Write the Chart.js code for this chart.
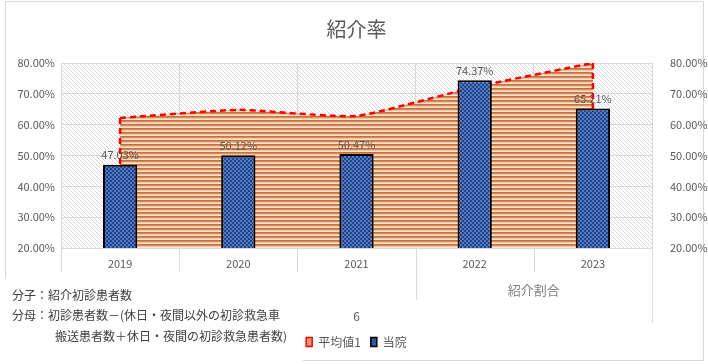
<!DOCTYPE html>
<html>
<head>
<meta charset="utf-8">
<script src="https://cdn.jsdelivr.net/npm/chart.js@4.4.1/dist/chart.umd.min.js"></script>
<style>
  html, body { margin: 0; padding: 0; background: #fff; }
  #c { display: block; }
</style>
</head>
<body>
<canvas id="c" width="708" height="364"></canvas>
<script>
// 紹介率データ
const years = ['2019', '2020', '2021', '2022', '2023'];
const ownRates = [47.03, 50.12, 50.47, 74.37, 65.21];   // 当院
const avgRates = [62.2, 64.8, 62.8, 72.2, 80.0];         // 平均値1
const yTicks = [20, 30, 40, 50, 60, 70, 80];
const groupLabel = '紹介割合';
const subLabel = '6';
const noteLines = [
  '分子：紹介初診患者数',
  '分母：初診患者数－(休日・夜間以外の初診救急車',
  '搬送患者数＋休日・夜間の初診救急患者数)'
];

const JP = "'Noto Sans CJK JP', 'Liberation Sans', sans-serif";
const GRID = '#d9d9d9';
const TXT = '#595959';
const PAD_BOTTOM = 6;

function makePattern(w, h, draw) {
  const c = document.createElement('canvas');
  c.width = w; c.height = h;
  const g = c.getContext('2d');
  draw(g);
  return g.createPattern(c, 'repeat');
}

// 背景の斜線
const hatch = makePattern(4, 4, g => {
  g.fillStyle = '#fff'; g.fillRect(0, 0, 4, 4);
  g.fillStyle = '#d9d9d9';
  for (let i = 0; i < 4; i++) g.fillRect(i, i, 1, 1);
});
// 平均値の横縞
const stripes = makePattern(1, 4, g => {
  const rows = ['#c57039', '#d98c5b', '#f2c5a5', '#fbe4d3'];
  rows.forEach((c, i) => { g.fillStyle = c; g.fillRect(0, i, 1, 1); });
});
// 当院の格子柄
const checker = makePattern(4, 4, g => {
  g.fillStyle = '#1f448e'; g.fillRect(0, 0, 4, 4);
  g.fillStyle = '#5579c0';
  g.fillRect(0, 0, 2, 2); g.fillRect(2, 2, 2, 2);
});

const decor = {
  id: 'decor',
  beforeDraw(chart) {
    const { ctx, chartArea: a } = chart;
    ctx.save();
    ctx.fillStyle = '#fff';
    ctx.fillRect(0, 0, chart.width, chart.height);
    ctx.strokeStyle = GRID;
    ctx.lineWidth = 1;
    ctx.strokeRect(5.5, 1.5, 698, 359);
    ctx.fillStyle = hatch;
    ctx.fillRect(a.left, a.top, a.width, a.height);
    ctx.restore();
  },
  afterDatasetDraw(chart, args) {
    if (args.index !== 0) return;
    const pts = args.meta.data;
    const bottom = chart.chartArea.bottom;
    const ctx = chart.ctx;
    ctx.save();
    ctx.strokeStyle = '#ff0000';
    ctx.lineWidth = 2.5;
    ctx.setLineDash([6, 4]);
    [pts[0], pts[pts.length - 1]].forEach(p => {
      ctx.beginPath();
      ctx.moveTo(p.x, p.y);
      ctx.lineTo(p.x, bottom);
      ctx.stroke();
    });
    ctx.restore();
  },
  afterDatasetsDraw(chart) {
    const ctx = chart.ctx;
    const meta = chart.getDatasetMeta(1);
    ctx.save();
    ctx.font = '11px ' + JP;
    ctx.fillStyle = TXT;
    ctx.textAlign = 'center';
    ctx.textBaseline = 'bottom';
    meta.data.forEach((bar, i) => {
      ctx.fillText(ownRates[i].toFixed(2) + '%', bar.x, bar.y - 4);
    });
    ctx.restore();
  },
  afterDraw(chart) {
    const { ctx, chartArea: a } = chart;
    const xs = chart.scales.x;
    const step = xs.getPixelForValue(1) - xs.getPixelForValue(0);
    const bound = i => xs.getPixelForValue(i) - step / 2;
    ctx.save();
    // 軸下の区切り線
    ctx.strokeStyle = GRID;
    ctx.lineWidth = 1;
    const lens = [24, 24, 24, 52, 24, 75];
    lens.forEach((len, i) => {
      const x = Math.round(bound(i)) + 0.5;
      ctx.beginPath();
      ctx.moveTo(x, a.bottom);
      ctx.lineTo(x, a.bottom + len);
      ctx.stroke();
    });
    ctx.font = '13px ' + JP;
    ctx.fillStyle = '#7f7f7f';
    ctx.textAlign = 'center';
    ctx.textBaseline = 'middle';
    ctx.fillText(groupLabel, (bound(3) + bound(5)) / 2, 290);
    ctx.font = '12px ' + JP;
    ctx.fillStyle = TXT;
    ctx.fillText(subLabel, xs.getPixelForValue(2), 316);

    // 注記テキストボックス
    ctx.fillStyle = '#fff';
    ctx.fillRect(0, 279, 303, 85);
    ctx.font = '12px ' + JP;
    ctx.fillStyle = '#404040';
    ctx.textAlign = 'left';
    ctx.fillText(noteLines[0], 12, 295);
    ctx.fillText(noteLines[1], 12, 315);
    ctx.fillText(noteLines[2], 55, 336);
    ctx.restore();
  }
};

const pctTick = v => Number(v).toFixed(2) + '%';

new Chart(document.getElementById('c'), {
  data: {
    labels: years,
    datasets: [
      {
        type: 'line',
        label: '平均値1',
        data: avgRates,
        yAxisID: 'y',
        order: 2,
        fill: 'start',
        backgroundColor: stripes,
        borderColor: '#ff0000',
        borderWidth: 2.5,
        borderDash: [6, 4],
        tension: 0.15,
        pointRadius: 0
      },
      {
        type: 'bar',
        label: '当院',
        data: ownRates,
        yAxisID: 'y',
        order: 1,
        backgroundColor: checker,
        borderColor: '#000',
        borderWidth: 2,
        borderSkipped: 'start',
        categoryPercentage: 1,
        barPercentage: 0.29
      }
    ]
  },
  options: {
    responsive: false,
    animation: false,
    layout: { padding: { left: 5, right: 0, top: 0, bottom: PAD_BOTTOM } },
    scales: {
      x: {
        offset: true,
        grid: { offset: true, color: GRID, drawTicks: false },
        border: { color: GRID },
        ticks: { color: TXT, font: { family: JP, size: 11 }, padding: 9 },
        afterFit(s) {
          const lg = s.chart.legend ? s.chart.legend.height : 0;
          s.height = s.chart.height - 248 - lg - PAD_BOTTOM;
        }
      },
      y: {
        position: 'left',
        min: yTicks[0],
        max: yTicks[yTicks.length - 1],
        grid: { color: GRID, drawTicks: false },
        border: { display: false },
        ticks: { stepSize: 10, color: TXT, font: { family: JP, size: 11 }, padding: 6, callback: pctTick },
        afterFit(s) { s.width = 56; }
      },
      y1: {
        position: 'right',
        min: yTicks[0],
        max: yTicks[yTicks.length - 1],
        grid: { display: false },
        border: { display: false },
        ticks: { stepSize: 10, color: TXT, font: { family: JP, size: 11 }, padding: 10, callback: pctTick },
        afterFit(s) { s.width = 56; }
      }
    },
    plugins: {
      title: {
        display: true,
        text: '紹介率',
        color: TXT,
        font: { family: JP, size: 20, weight: 'normal' },
        padding: { top: 17, bottom: 22 }
      },
      legend: {
        position: 'bottom',
        labels: {
          color: TXT,
          font: { family: JP, size: 12 },
          boxWidth: 6,
          boxHeight: 9,
          padding: 10,
          sort: (a, b) => a.datasetIndex - b.datasetIndex,
          generateLabels(chart) {
            const items = Chart.defaults.plugins.legend.labels.generateLabels(chart);
            return items.map(it => {
              const red = it.datasetIndex === 0;
              return Object.assign(it, {
                fillStyle: red ? '#e59a68' : '#2d55a3',
                strokeStyle: red ? '#ff0000' : '#000',
                lineWidth: 1.5,
                lineDash: []
              });
            });
          }
        }
      },
      tooltip: { enabled: false }
    }
  },
  plugins: [decor]
});
</script>
</body>
</html>
